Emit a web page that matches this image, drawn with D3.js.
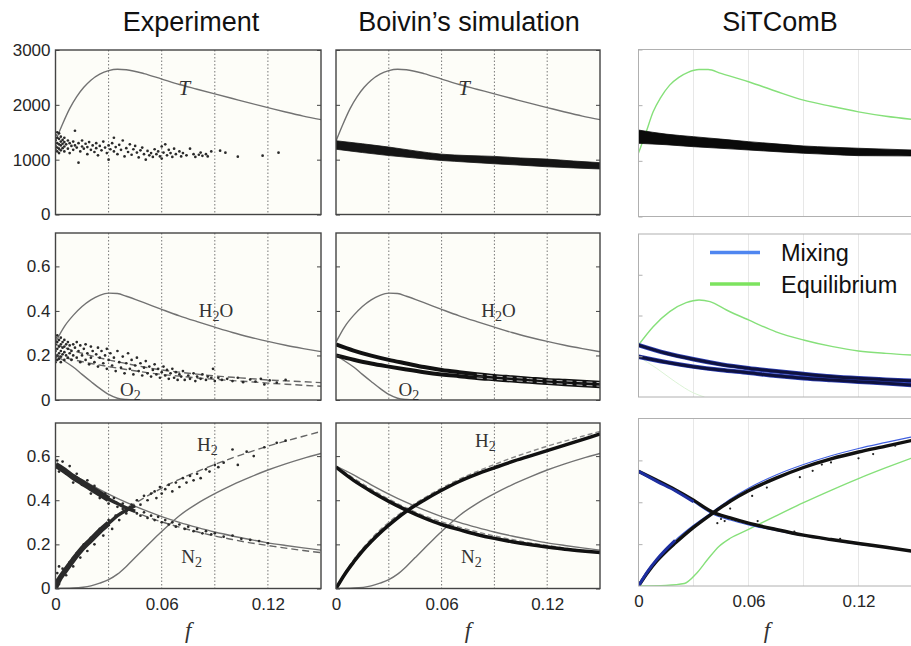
<!DOCTYPE html>
<html><head><meta charset="utf-8">
<script src="https://cdn.jsdelivr.net/npm/d3@7"></script>
<style>body{margin:0;background:#fff;} svg{display:block;}</style>
</head><body>
<svg id="c" width="911" height="646"></svg>
<script>
// ---------- titles / ticks ----------
const columnTitles = ["Experiment", "Boivin\u2019s simulation", "SiTComB"];
const xTickValues = [0, 0.06, 0.12];
const xGridValues = [0.03, 0.06, 0.09, 0.12];
const yTicksT = [0, 1000, 2000, 3000];
const yTicksX = [0, 0.2, 0.4, 0.6];
const legendLabels = ["Mixing", "Equilibrium"];

// ---------- reference equilibrium (grey, columns 1-2) ----------
const eqT = [[0,1340],[0.004,1650],[0.008,1930],[0.012,2150],[0.016,2320],[0.02,2450],[0.025,2560],[0.03,2625],[0.035,2650],[0.04,2640],[0.05,2570],[0.06,2470],[0.07,2370],[0.08,2285],[0.09,2200],[0.10,2115],[0.11,2030],[0.12,1950],[0.13,1870],[0.14,1795],[0.15,1730]];
const eqH2O = [[0,0.26],[0.005,0.33],[0.01,0.38],[0.015,0.42],[0.02,0.45],[0.025,0.47],[0.03,0.48],[0.035,0.478],[0.04,0.466],[0.05,0.437],[0.06,0.407],[0.07,0.378],[0.08,0.352],[0.09,0.327],[0.10,0.303],[0.11,0.282],[0.12,0.263],[0.13,0.246],[0.14,0.231],[0.15,0.217]];
const eqO2 = [[0,0.2],[0.005,0.175],[0.01,0.148],[0.015,0.115],[0.02,0.083],[0.025,0.052],[0.03,0.025],[0.035,0.008],[0.04,0.002],[0.045,0]];
const eqN2 = [[0,0.555],[0.01,0.515],[0.02,0.47],[0.03,0.428],[0.04,0.39],[0.05,0.356],[0.06,0.326],[0.07,0.3],[0.08,0.277],[0.09,0.256],[0.10,0.238],[0.11,0.222],[0.12,0.207],[0.13,0.195],[0.14,0.184],[0.15,0.174]];
const eqH2 = [[0,0],[0.01,0.002],[0.02,0.012],[0.025,0.024],[0.03,0.04],[0.035,0.065],[0.04,0.1],[0.045,0.14],[0.05,0.18],[0.055,0.22],[0.06,0.258],[0.07,0.33],[0.08,0.385],[0.09,0.43],[0.10,0.47],[0.11,0.505],[0.12,0.537],[0.13,0.565],[0.14,0.59],[0.15,0.612]];

// ---------- mixing lines (dashed) ----------
const mixH2O = [[0,0.25],[0.01,0.222],[0.02,0.199],[0.03,0.18],[0.04,0.164],[0.05,0.148],[0.06,0.135],[0.07,0.125],[0.08,0.116],[0.09,0.108],[0.10,0.102],[0.11,0.096],[0.12,0.09],[0.13,0.086],[0.14,0.082],[0.15,0.078]];
const mixO2 = [[0,0.2],[0.01,0.181],[0.02,0.164],[0.03,0.15],[0.04,0.137],[0.05,0.125],[0.06,0.115],[0.07,0.107],[0.08,0.099],[0.09,0.093],[0.10,0.087],[0.11,0.082],[0.12,0.076],[0.13,0.071],[0.14,0.066],[0.15,0.062]];
const mixH2 = [[0,0],[0.005,0.07],[0.01,0.13],[0.015,0.18],[0.02,0.225],[0.025,0.265],[0.03,0.3],[0.04,0.36],[0.05,0.41],[0.06,0.455],[0.07,0.495],[0.08,0.53],[0.09,0.562],[0.10,0.592],[0.11,0.619],[0.12,0.645],[0.13,0.668],[0.14,0.69],[0.15,0.712]];
const mixN2 = [[0,0.555],[0.01,0.5],[0.02,0.45],[0.03,0.405],[0.04,0.365],[0.05,0.33],[0.06,0.302],[0.07,0.278],[0.08,0.257],[0.09,0.238],[0.10,0.222],[0.11,0.207],[0.12,0.195],[0.13,0.183],[0.14,0.172],[0.15,0.163]];

// ---------- experiment scatter ----------
const expT = [[0,1450],[0,1350],[0,1250],[0,1180],[0.001,1500],[0.001,1400],[0.001,1300],[0.001,1220],[0.001,1150],[0.002,1480],[0.002,1380],[0.002,1280],[0.002,1200],[0.002,1120],[0.003,1420],[0.003,1330],[0.003,1260],[0.003,1170],[0.004,1360],[0.004,1290],[0.004,1210],[0.005,1400],[0.005,1320],[0.005,1240],[0.005,1150],
[0.006,1280],[0.007,1350],[0.007,1200],[0.008,1300],[0.008,1120],[0.009,1250],[0.010,1330],[0.010,1180],[0.011,1527],[0.011,1260],[0.012,1220],[0.013,945],[0.013,1300],[0.014,1150],[0.015,1350],[0.015,1240],[0.016,1200],[0.017,1290],[0.018,1100],[0.018,1230],[0.019,1320],[0.020,1180],[0.021,1260],[0.022,1140],[0.023,1300],[0.023,1210],[0.024,1080],[0.025,1250],[0.026,1170],[0.027,1330],[0.028,1220],[0.029,1120],[0.030,1260],[0.030,1000],[0.031,1190],
[0.032,1300],[0.033,1400],[0.033,1150],[0.034,1230],[0.035,1100],[0.036,1270],[0.037,1180],[0.038,1350],[0.039,1060],[0.040,1210],[0.041,1140],[0.042,1280],[0.043,1090],[0.044,1190],[0.045,1250],[0.046,1130],[0.047,1040],[0.048,1170],[0.049,1220],[0.050,1100],[0.051,1000],[0.052,1160],[0.053,1080],[0.054,1120],[0.055,1050],[0.056,1190],[0.057,1100],[0.058,1150],[0.059,1060],[0.060,1240],[0.060,1020],
[0.061,1130],[0.062,1280],[0.063,1080],[0.064,1180],[0.065,1120],[0.066,1050],[0.067,1200],[0.068,1100],[0.070,1150],[0.071,1060],[0.072,1120],[0.074,1080],[0.076,1200],[0.078,1100],[0.079,1050],[0.081,1090],[0.082,1130],[0.083,1070],[0.085,1100],[0.086,1060],[0.088,1150],
[0.093,1164],[0.096,1127],[0.103,1055],[0.117,1073],[0.126,1127]];

const expMid = [[0,0.28],[0,0.25],[0,0.22],[0,0.19],[0,0.17],[0.001,0.29],[0.001,0.26],[0.001,0.23],[0.001,0.20],[0.001,0.18],[0.002,0.27],[0.002,0.24],[0.002,0.21],[0.002,0.185],[0.003,0.28],[0.003,0.25],[0.003,0.22],[0.003,0.195],[0.003,0.17],[0.004,0.26],[0.004,0.235],[0.004,0.205],[0.005,0.27],[0.005,0.24],[0.005,0.215],[0.005,0.18],[0.006,0.25],[0.006,0.2],[0.007,0.26],[0.007,0.23],[0.007,0.19],[0.008,0.245],[0.008,0.21],[0.009,0.22],[0.009,0.18],[0.010,0.25],[0.010,0.2],
[0.011,0.235],[0.012,0.26],[0.012,0.19],[0.013,0.22],[0.014,0.17],[0.014,0.245],[0.015,0.2],[0.016,0.23],[0.017,0.18],[0.017,0.25],[0.018,0.21],[0.019,0.16],[0.020,0.24],[0.020,0.19],[0.021,0.22],[0.022,0.17],[0.023,0.205],[0.024,0.235],[0.024,0.15],[0.025,0.19],[0.026,0.22],[0.027,0.165],[0.028,0.2],[0.029,0.14],[0.029,0.23],[0.030,0.18],
[0.031,0.21],[0.032,0.155],[0.033,0.19],[0.034,0.13],[0.035,0.22],[0.036,0.17],[0.037,0.145],[0.038,0.195],[0.039,0.12],[0.040,0.165],[0.041,0.21],[0.042,0.14],[0.043,0.18],[0.044,0.115],[0.045,0.155],[0.046,0.19],[0.047,0.13],[0.048,0.165],[0.049,0.11],[0.050,0.145],[0.051,0.175],[0.052,0.12],[0.053,0.15],[0.054,0.105],[0.055,0.135],[0.056,0.16],[0.057,0.115],[0.058,0.14],[0.059,0.1],[0.060,0.125],
[0.061,0.15],[0.062,0.11],[0.063,0.135],[0.064,0.095],[0.065,0.12],[0.066,0.14],[0.067,0.1],[0.068,0.125],[0.069,0.09],[0.070,0.115],[0.071,0.105],[0.072,0.13],[0.073,0.09],[0.075,0.11],[0.076,0.095],[0.078,0.12],[0.079,0.085],[0.080,0.105],[0.082,0.095],[0.083,0.115],[0.085,0.09],[0.086,0.105],[0.088,0.1],[0.089,0.14],[0.090,0.085],[0.092,0.1],[0.094,0.09],[0.097,0.095],[0.100,0.085],[0.103,0.1],[0.106,0.08],[0.110,0.092],[0.113,0.083],[0.116,0.095],[0.118,0.07],[0.121,0.088],[0.125,0.078],[0.13,0.09]];

const expN2Band = [[0,0.56],[0.005,0.535],[0.01,0.505],[0.015,0.48],[0.02,0.455],[0.025,0.43],[0.03,0.405],[0.035,0.385],[0.04,0.365],[0.045,0.35]];
const expH2Band = [[0,0.005],[0.002,0.04],[0.005,0.075],[0.01,0.13],[0.015,0.18],[0.02,0.22],[0.025,0.26],[0.03,0.295],[0.035,0.33],[0.04,0.355],[0.045,0.375]];
const expN2Pts = [[0.001,0.58],[0.002,0.53],[0.004,0.575],[0.006,0.52],[0.008,0.555],[0.01,0.48],[0.012,0.52],[0.015,0.47],[0.018,0.49],[0.02,0.43],[0.022,0.465],[0.025,0.41],[0.028,0.43],[0.03,0.385],[0.033,0.41],[0.035,0.37],[0.038,0.385],[0.04,0.35],[0.042,0.37],
[0.046,0.34],[0.048,0.33],[0.05,0.345],[0.052,0.32],[0.054,0.33],[0.056,0.31],[0.058,0.325],[0.06,0.3],[0.062,0.31],[0.064,0.29],[0.066,0.3],[0.068,0.28],[0.07,0.29],[0.073,0.27],[0.075,0.28],[0.078,0.26],[0.08,0.27],[0.083,0.25],[0.085,0.26],[0.088,0.245],[0.09,0.25],[0.095,0.235],[0.1,0.24],[0.105,0.225],[0.11,0.22],[0.115,0.215],[0.12,0.205]];
const expH2Pts = [[0,0.01],[0,0.04],[0.001,0.07],[0.002,0.02],[0.002,0.1],[0.003,0.05],[0.004,0.09],[0.006,0.06],[0.008,0.12],[0.01,0.1],[0.012,0.16],[0.014,0.14],[0.016,0.2],[0.018,0.17],[0.02,0.23],[0.022,0.2],[0.025,0.27],[0.027,0.24],[0.03,0.31],[0.032,0.27],[0.034,0.33],[0.036,0.31],[0.038,0.36],[0.04,0.34],[0.043,0.38],
[0.046,0.4],[0.048,0.38],[0.05,0.42],[0.052,0.4],[0.054,0.43],[0.056,0.44],[0.057,0.41],[0.059,0.46],[0.06,0.43],[0.062,0.45],[0.064,0.47],[0.066,0.44],[0.068,0.48],[0.07,0.46],[0.072,0.5],[0.074,0.48],[0.076,0.51],[0.078,0.49],[0.08,0.52],[0.082,0.5],[0.085,0.54],[0.087,0.53],[0.09,0.56],[0.092,0.55],[0.095,0.57],[0.1,0.63],[0.103,0.56],[0.108,0.62],[0.112,0.6],[0.118,0.64],[0.125,0.66],[0.13,0.67]];

// ---------- Boivin simulation ----------
const simTBand = [[0,1190,1345],[0.015,1130,1290],[0.03,1075,1230],[0.045,1030,1160],[0.06,985,1100],[0.075,955,1075],[0.09,925,1060],[0.105,900,1030],[0.12,870,1010],[0.135,850,975],[0.15,830,945]];
const simH2 = [[0,0],[0.005,0.065],[0.01,0.12],[0.015,0.17],[0.02,0.213],[0.025,0.252],[0.03,0.287],[0.04,0.35],[0.05,0.4],[0.06,0.445],[0.07,0.485],[0.08,0.518],[0.09,0.547],[0.10,0.575],[0.11,0.6],[0.12,0.625],[0.13,0.65],[0.14,0.675],[0.15,0.7]];
const simN2 = [[0,0.55],[0.01,0.49],[0.02,0.44],[0.03,0.395],[0.04,0.355],[0.05,0.32],[0.06,0.29],[0.07,0.267],[0.08,0.245],[0.09,0.227],[0.10,0.212],[0.11,0.199],[0.12,0.188],[0.13,0.178],[0.14,0.17],[0.15,0.163]];

// ---------- SiTComB ----------
const sitEqT = [[0,1140],[0.004,1500],[0.008,1880],[0.012,2130],[0.017,2360],[0.022,2500],[0.027,2590],[0.033,2640],[0.038,2640],[0.045,2570],[0.06,2420],[0.075,2250],[0.09,2090],[0.105,1980],[0.12,1880],[0.135,1800],[0.149,1745]];
const sitTBand = [[0,1315,1553],[0.015,1290,1480],[0.03,1254,1434],[0.045,1225,1390],[0.06,1195,1344],[0.075,1165,1305],[0.09,1136,1267],[0.105,1115,1245],[0.12,1093,1226],[0.135,1090,1210],[0.149,1088,1195]];
const sitEqH2O = [[0,0.255],[0.008,0.345],[0.017,0.419],[0.026,0.463],[0.033,0.476],[0.039,0.468],[0.048,0.427],[0.06,0.378],[0.075,0.32],[0.09,0.28],[0.106,0.247],[0.12,0.226],[0.135,0.214],[0.149,0.206]];
const sitEqO2 = [[0,0.198],[0.01,0.14],[0.02,0.075],[0.03,0.02],[0.036,0]];
const sitMixH2O = [[0,0.255],[0.015,0.215],[0.03,0.185],[0.045,0.16],[0.06,0.141],[0.075,0.126],[0.09,0.113],[0.105,0.101],[0.12,0.092],[0.135,0.085],[0.149,0.079]];
const sitMixO2 = [[0,0.198],[0.015,0.171],[0.03,0.149],[0.045,0.132],[0.06,0.119],[0.075,0.104],[0.09,0.092],[0.105,0.083],[0.12,0.075],[0.135,0.067],[0.149,0.059]];
const sitMixH2 = [[0,0],[0.005,0.07],[0.01,0.127],[0.015,0.175],[0.02,0.218],[0.03,0.29],[0.04,0.352],[0.05,0.415],[0.06,0.467],[0.075,0.53],[0.09,0.58],[0.105,0.622],[0.12,0.657],[0.135,0.686],[0.149,0.712]];
const sitH2 = [[0,0],[0.005,0.065],[0.01,0.12],[0.015,0.165],[0.02,0.205],[0.03,0.28],[0.04,0.345],[0.05,0.405],[0.06,0.455],[0.075,0.515],[0.09,0.566],[0.105,0.607],[0.12,0.64],[0.135,0.668],[0.149,0.695]];
const sitMixN2 = [[0,0.548],[0.01,0.5],[0.02,0.455],[0.03,0.402],[0.04,0.345],[0.05,0.315],[0.06,0.292],[0.075,0.265],[0.09,0.24],[0.105,0.22],[0.12,0.2],[0.135,0.183],[0.149,0.166]];
const sitN2 = [[0,0.548],[0.01,0.505],[0.02,0.46],[0.03,0.41],[0.04,0.355],[0.05,0.325],[0.06,0.3],[0.075,0.27],[0.09,0.243],[0.105,0.222],[0.12,0.203],[0.135,0.185],[0.149,0.167]];
const sitEqH2 = [[0,0],[0.015,0.003],[0.025,0.012],[0.0316,0.06],[0.038,0.13],[0.044,0.19],[0.05,0.228],[0.06,0.27],[0.075,0.335],[0.09,0.398],[0.105,0.457],[0.12,0.513],[0.135,0.565],[0.149,0.611]];
const sitOutliers = [[0.043,0.3],[0.045,0.32],[0.047,0.31],[0.05,0.37],[0.062,0.43],[0.07,0.47],[0.088,0.52],[0.1,0.58],[0.105,0.59],[0.12,0.61],[0.128,0.63],[0.065,0.31],[0.085,0.26],[0.11,0.225],[0.14,0.67],[0.095,0.55]];

// ---------- layout ----------
const colX = [[55.5,321],[336,600],[638.5,913.5]];
const rowY12 = [[50,214.5],[233,400],[423,588.5]];
const rowY3 = [[49.5,216.5],[234,397],[418.5,586]];
const yDom12 = [[0,3000],[0,0.75],[0,0.75]];
const yDom3 = [[0,3000],[0,0.8],[0,0.8]];

const GREY = "#727272", GREEN = "#86e07a", BLUE = "#4060e0";
const svg = d3.select("#c");
const defs = svg.append("defs");
const sansFont = "Liberation Sans, Arial, sans-serif";
const serifFont = "Liberation Serif, Times New Roman, serif";

function makePanel(ci, ri) {
  const [x0,x1] = colX[ci];
  const [y0,y1] = ci < 2 ? rowY12[ri] : rowY3[ri];
  const yd = ci < 2 ? yDom12[ri] : yDom3[ri];
  const x = d3.scaleLinear().domain([0,0.15]).range([x0,x1]);
  const y = d3.scaleLinear().domain(yd).range([y1,y0]);
  const id = "clip" + ci + ri;
  defs.append("clipPath").attr("id", id).append("rect")
    .attr("x", x0).attr("y", y0).attr("width", x1-x0).attr("height", y1-y0);
  const g = svg.append("g");
  g.append("rect").attr("x", x0).attr("y", y0).attr("width", x1-x0).attr("height", y1-y0)
    .attr("fill", ci < 2 ? "#fdfdf8" : "#ffffff");
  const inner = g.append("g").attr("clip-path", `url(#${id})`);
  inner.selectAll("line.grid").data(xGridValues).join("line")
    .attr("x1", d => x(d)).attr("x2", d => x(d)).attr("y1", y0).attr("y2", y1)
    .attr("stroke", ci < 2 ? "#777" : "#e4e4e4")
    .attr("stroke-width", ci < 2 ? 1 : 0.9)
    .attr("stroke-dasharray", ci < 2 ? "1.5,2" : null);
  return {g, inner, x, y, x0, x1, y0, y1, ci, ri};
}

function line(p, data, opts) {
  const gen = d3.line().x(d => p.x(d[0])).y(d => p.y(d[1])).curve(d3.curveMonotoneX);
  p.inner.append("path").attr("d", gen(data)).attr("fill", "none")
    .attr("stroke", opts.color).attr("stroke-width", opts.width || 1.4)
    .attr("stroke-dasharray", opts.dash || null)
    .attr("stroke-opacity", opts.opacity || 1)
    .attr("stroke-linecap", opts.cap || "butt");
}
function band(p, data, color) {
  const gen = d3.area().x(d => p.x(d[0])).y0(d => p.y(d[1])).y1(d => p.y(d[2])).curve(d3.curveMonotoneX);
  p.inner.append("path").attr("d", gen(data)).attr("fill", color)
    .attr("stroke", color).attr("stroke-width", 0.8);
}
function dots(p, data, r, color) {
  p.inner.selectAll(null).data(data).join("circle")
    .attr("cx", d => p.x(d[0])).attr("cy", d => p.y(d[1])).attr("r", r).attr("fill", color);
}
function finish(p, yTicks, showY) {
  const c = p.ci < 2 ? "#444" : "#b0b0b0";
  const left = d3.axisLeft(p.y).tickValues(yTicks).tickSize(-4).tickPadding(5)
    .tickFormat(showY ? (d => d === 0 ? "0" : d) : "");
  const gl = p.g.append("g").attr("transform", `translate(${p.x0},0)`).call(left);
  gl.select(".domain").remove();
  gl.selectAll("line").attr("stroke", c);
  gl.selectAll("text").attr("font-family", sansFont).attr("font-size", 17).attr("fill", "#262626");
  if (p.ci < 2) {
    const right = d3.axisRight(p.y).tickValues(yTicks).tickSize(-4).tickFormat("");
    const gr = p.g.append("g").attr("transform", `translate(${p.x1},0)`).call(right);
    gr.select(".domain").remove();
    gr.selectAll("line").attr("stroke", c);
  }
  p.g.append("rect").attr("x", p.x0).attr("y", p.y0).attr("width", p.x1-p.x0).attr("height", p.y1-p.y0)
    .attr("fill", "none").attr("stroke", c).attr("stroke-width", p.ci < 2 ? 1.4 : 1);
  if (p.ri === 2) {
    const bottom = d3.axisBottom(p.x).tickValues(xTickValues).tickSize(0).tickPadding(9)
      .tickFormat(d => d === 0 ? "0" : d3.format(".2f")(d));
    const gb = p.g.append("g").attr("transform", `translate(0,${p.y1})`).call(bottom);
    gb.select(".domain").remove();
    gb.selectAll("text").attr("font-family", sansFont).attr("font-size", 17).attr("fill", "#262626");
    p.g.append("text").attr("x", p.x(p.ci < 2 ? 0.075 : 0.07)).attr("y", 638)
      .attr("text-anchor", "middle").attr("font-family", serifFont).attr("font-style", "italic")
      .attr("font-size", 23).attr("fill", "#333").text("f");
  }
}
function chemLabel(p, xv, yv, base, sub, tail) {
  const t = p.g.append("text").attr("x", p.x(xv)).attr("y", p.y(yv))
    .attr("font-family", serifFont).attr("font-size", 19).attr("fill", "#333");
  t.append("tspan").text(base);
  t.append("tspan").attr("font-size", 14).attr("dy", 4).text(sub);
  if (tail) t.append("tspan").attr("dy", -4).text(tail);
}
function italicLabel(p, xv, yv, s) {
  p.g.append("text").attr("x", p.x(xv)).attr("y", p.y(yv))
    .attr("font-family", serifFont).attr("font-style", "italic").attr("font-size", 21)
    .attr("fill", "#333").text(s);
}

// ---------- column 1: experiment ----------
let p = makePanel(0, 0);
line(p, eqT, {color: GREY});
dots(p, expT, 1.35, "#2a2a2a");
finish(p, yTicksT, true);
italicLabel(p, 0.0695, 2180, "T");

p = makePanel(0, 1);
line(p, eqH2O, {color: GREY});
line(p, eqO2, {color: GREY});
line(p, mixH2O, {color: "#666", dash: "7,4"});
line(p, mixO2, {color: "#666", dash: "7,4"});
dots(p, expMid, 1.35, "#2a2a2a");
finish(p, yTicksX, true);
chemLabel(p, 0.081, 0.375, "H", "2", "O");
chemLabel(p, 0.0365, 0.02, "O", "2");

p = makePanel(0, 2);
line(p, eqN2, {color: GREY});
line(p, eqH2, {color: GREY});
line(p, mixH2, {color: "#666", dash: "7,4"});
line(p, mixN2, {color: "#666", dash: "7,4"});
line(p, expN2Band.filter(d => d[0] <= 0.03), {color: "#2a2a2a", width: 6});
line(p, expN2Band.filter(d => d[0] >= 0.025), {color: "#2a2a2a", width: 3.5});
line(p, expH2Band.filter(d => d[0] <= 0.03), {color: "#2a2a2a", width: 5.5});
line(p, expH2Band.filter(d => d[0] >= 0.025), {color: "#2a2a2a", width: 3.5});
dots(p, expN2Pts, 1.35, "#2a2a2a");
dots(p, expH2Pts, 1.35, "#2a2a2a");
finish(p, yTicksX, true);
chemLabel(p, 0.08, 0.625, "H", "2");
chemLabel(p, 0.071, 0.115, "N", "2");

// ---------- column 2: Boivin ----------
p = makePanel(1, 0);
line(p, eqT, {color: GREY});
band(p, simTBand, "#151515");
finish(p, yTicksT, false);
italicLabel(p, 0.0695, 2180, "T");

p = makePanel(1, 1);
line(p, eqH2O, {color: GREY});
line(p, eqO2, {color: GREY});
line(p, mixH2O, {color: "#111", width: 4});
line(p, mixO2, {color: "#111", width: 4});
line(p, mixH2O.filter(d => d[0] >= 0.08), {color: "#bbb", width: 1, dash: "6,4"});
line(p, mixO2.filter(d => d[0] >= 0.08), {color: "#bbb", width: 1, dash: "6,4"});
finish(p, yTicksX, false);
chemLabel(p, 0.0825, 0.375, "H", "2", "O");
chemLabel(p, 0.0355, 0.02, "O", "2");

p = makePanel(1, 2);
line(p, eqN2, {color: GREY});
line(p, eqH2, {color: GREY});
line(p, mixH2, {color: "#888", dash: "5,3", width: 1.4});
line(p, mixN2, {color: "#888", dash: "5,3", width: 1.4});
line(p, simH2, {color: "#111", width: 3.5});
line(p, simN2, {color: "#111", width: 3.5});
finish(p, yTicksX, false);
chemLabel(p, 0.079, 0.64, "H", "2");
chemLabel(p, 0.071, 0.115, "N", "2");

// ---------- column 3: SiTComB ----------
p = makePanel(2, 0);
line(p, sitEqT, {color: GREEN, width: 1.4});
band(p, sitTBand, "#0a0a0a");
finish(p, yTicksT, false);

p = makePanel(2, 1);
line(p, sitEqH2O, {color: GREEN, width: 1.4});
line(p, sitEqO2, {color: "#dcf3d6", width: 1});
line(p, sitMixH2O, {color: "#2d3fb5", width: 4.5});
line(p, sitMixO2, {color: "#2d3fb5", width: 4.5});
line(p, sitMixH2O, {color: "#0a0a2a", width: 3, opacity: 0.85});
line(p, sitMixO2, {color: "#0a0a2a", width: 3, opacity: 0.85});
finish(p, [0.2, 0.4, 0.6], false);
const lg = p.g.append("g");
legendLabels.forEach((lab, i) => {
  const yy = i === 0 ? 252.5 : 284;
  lg.append("line").attr("x1", 710).attr("x2", 760).attr("y1", yy).attr("y2", yy)
    .attr("stroke", i === 0 ? "#4f86f0" : "#7de35f").attr("stroke-width", 3.5);
  lg.append("text").attr("x", 781).attr("y", yy + 8.5).attr("font-family", sansFont)
    .attr("font-size", 23.5).attr("fill", "#111").text(lab);
});

p = makePanel(2, 2);
line(p, sitEqH2, {color: GREEN, width: 1.4});
line(p, sitMixH2, {color: BLUE, width: 1.1});
line(p, sitMixN2, {color: BLUE, width: 1.1});
line(p, sitH2, {color: "#111", width: 3.4});
line(p, sitN2, {color: "#111", width: 3.4});
line(p, sitMixN2.filter(d => d[0] <= 0.03), {color: "#1d2ea0", width: 3});
line(p, sitMixH2.filter(d => d[0] <= 0.02), {color: "#1d2ea0", width: 3});
dots(p, sitOutliers, 1.1, "#222");
finish(p, [0.2, 0.4, 0.6], false);

// ---------- titles ----------
const titleX = [191, 469, 780];
columnTitles.forEach((t, i) => {
  svg.append("text").attr("x", titleX[i]).attr("y", 31).attr("text-anchor", "middle")
    .attr("font-family", sansFont).attr("font-size", 27).attr("fill", "#111").text(t);
});
</script>
</body></html>
